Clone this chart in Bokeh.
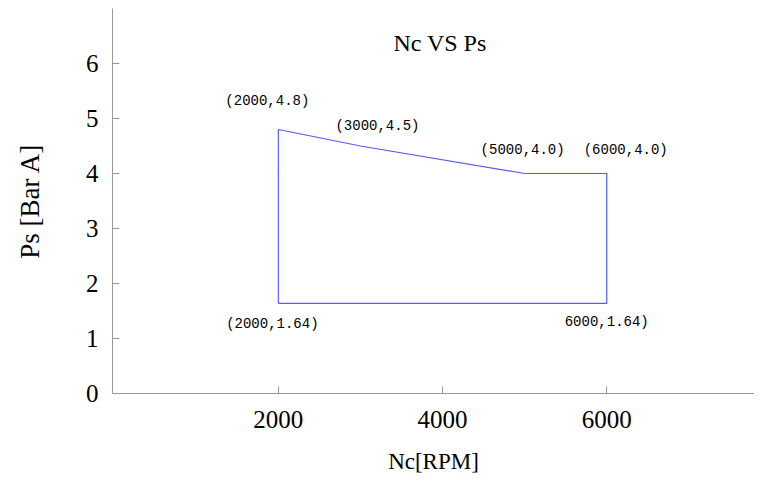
from bokeh.plotting import figure
from bokeh.models import Range1d, FixedTicker, Label
from bokeh.embed import file_html
from bokeh.resources import INLINE

# data
nc = [2000, 2000, 3000, 5000, 6000, 6000, 2000]
ps = [1.64, 4.8, 4.5, 4.0, 4.0, 1.64, 1.64]
point_nc = [2000, 3000, 5000, 6000, 2000, 6000]
point_ps = [4.8, 4.5, 4.0, 4.0, 1.64, 1.64]
point_text = ["(2000,4.8)", "(3000,4.5)", "(5000,4.0)", "(6000,4.0)", "(2000,1.64)", "6000,1.64)"]
x_ticks = [2000, 4000, 6000]
y_ticks = [0, 1, 2, 3, 4, 5, 6]

p = figure(width=754, height=478, output_backend="svg", toolbar_location=None,
           x_range=Range1d(-20, 7800), y_range=Range1d(0, 7.0),
           min_border_left=112, min_border_right=0, min_border_top=8, min_border_bottom=85)
p.outline_line_color = None
p.xgrid.grid_line_color = None
p.ygrid.grid_line_color = None
p.background_fill_color = "white"

p.line(nc, ps, line_color="#5a5aff", line_width=1.2)

# point annotations (pixel offsets are style)
offsets = [(-11, 29), (17, 20), (-2, 24), (19, 24), (-6, -21), (0, -19)]
for xv, yv, t, (dx, dy) in zip(point_nc, point_ps, point_text, offsets):
    p.add_layout(Label(x=xv, y=yv, text=t, x_offset=dx, y_offset=dy,
                       text_align="center", text_baseline="middle",
                       text_font="Liberation Mono", text_font_size="14px",
                       text_color="black"))

# title inside plot
p.add_layout(Label(x=3970, y=6.38, text="Nc VS Ps", text_align="center",
                   text_baseline="middle", text_font="Liberation Serif",
                   text_font_size="24px", text_color="black"))

for ax in (p.xaxis[0], p.yaxis[0]):
    ax.axis_line_color = "#999999"
    ax.major_tick_line_color = "#999999"
    ax.major_tick_in = 7
    ax.major_tick_out = 0
    ax.minor_tick_line_color = None
    ax.major_label_text_font = "Liberation Serif"
    ax.major_label_text_font_size = "25px"
    ax.major_label_text_color = "black"
    ax.major_label_standoff = 14
    ax.axis_label_text_font = "Liberation Serif"
    ax.axis_label_text_font_style = "normal"
    ax.axis_label_text_color = "black"

p.xaxis[0].ticker = FixedTicker(ticks=x_ticks)
p.yaxis[0].ticker = FixedTicker(ticks=y_ticks)
p.xaxis[0].axis_label = "Nc[RPM]"
p.yaxis[0].axis_label = "Ps [Bar A]"
p.xaxis[0].major_label_standoff = 17
p.xaxis[0].axis_label_text_font_size = "23px"
p.yaxis[0].axis_label_text_font_size = "27px"
p.xaxis[0].axis_label_standoff = 18
p.yaxis[0].axis_label_standoff = 38

open("out.html", "w").write(file_html(p, INLINE))
